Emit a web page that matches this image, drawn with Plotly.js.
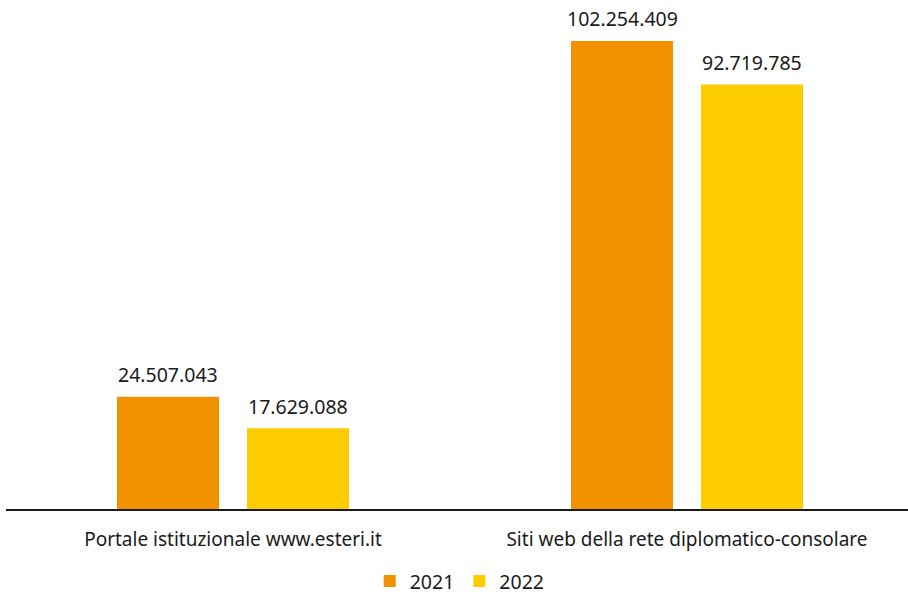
<!DOCTYPE html>
<html>
<head>
<meta charset="utf-8">
<script src="https://cdn.plot.ly/plotly-3.0.1.min.js"></script>
<style>
html,body{margin:0;padding:0;background:#fff;}
#chart{width:908px;height:595px;}
</style>
</head>
<body>
<div id="chart"></div>
<script>
const categories = ["Portale istituzionale www.esteri.it", "Siti web della rete diplomatico-consolare"];
const series2021 = [24507043, 102254409];
const series2022 = [17629088, 92719785];
const seriesNames = ["2021", "2022"];
const seriesColors = ["#F39200", "#FFCC00"];

const barWidth = 0.2247;
const offsets = [-0.2555, 0.0308];

function fmt(v) {
  return String(v).replace(/\B(?=(\d{3})+(?!\d))/g, ".");
}

const allSeries = [series2021, series2022];
const traces = allSeries.map((vals, i) => ({
  type: "bar",
  name: seriesNames[i],
  x: categories,
  y: vals,
  width: barWidth,
  offset: offsets[i],
  marker: {color: seriesColors[i]},
  hoverinfo: "none"
}));

const annotations = [];
allSeries.forEach((vals, i) => {
  vals.forEach((v, j) => {
    annotations.push({
      x: j + offsets[i] + barWidth / 2,
      y: v,
      xref: "x",
      yref: "y",
      text: fmt(v),
      showarrow: false,
      yanchor: "middle",
      yshift: 22,
      font: {family: "Noto Sans", size: 19.5, color: "#1a1a1a"}
    });
  });
});

const layout = {
  width: 908,
  height: 595,
  margin: {l: 6, r: 0, t: 0, b: 86, autoexpand: false},
  paper_bgcolor: "#ffffff",
  plot_bgcolor: "#ffffff",
  barmode: "overlay",
  showlegend: true,
  legend: {
    orientation: "h",
    x: 0.503,
    xanchor: "center",
    y: -0.142,
    yanchor: "middle",
    font: {family: "Noto Sans", size: 19.5, color: "#1a1a1a"},
    itemsizing: "constant",
    tracegroupgap: 0
  },
  xaxis: {
    type: "category",
    range: [-0.5, 1.4868],
    showgrid: false,
    zeroline: false,
    showline: true,
    linecolor: "#1a1a1a",
    linewidth: 1.5,
    ticks: "",
    ticklabelstandoff: 13,
    tickfont: {family: "Noto Sans", size: 19, color: "#1a1a1a"},
    automargin: false,
    fixedrange: true
  },
  yaxis: {
    range: [0, 111.2e6],
    showgrid: false,
    zeroline: false,
    showline: false,
    showticklabels: false,
    ticks: "",
    automargin: false,
    fixedrange: true
  },
  annotations: annotations,
  font: {family: "Noto Sans", color: "#1a1a1a"}
};

Plotly.newPlot("chart", traces, layout, {displayModeBar: false, staticPlot: true});
</script>
</body>
</html>
